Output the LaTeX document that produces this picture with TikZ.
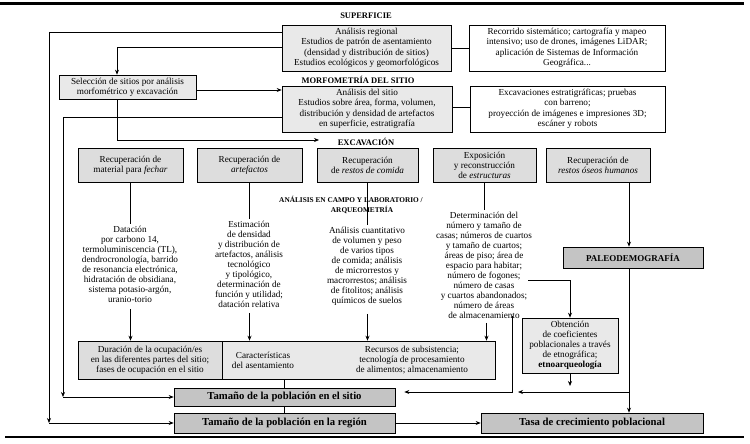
\documentclass[tikz,border=0pt]{standalone}
\usepackage{fontspec}
\setmainfont{Liberation Serif}
\usetikzlibrary{arrows.meta}
\definecolor{lightfill}{HTML}{E9E9E9}
\definecolor{midfill}{HTML}{DDDDDD}
\definecolor{darkfill}{HTML}{C4C4C4}
\begin{document}
\begin{tikzpicture}[x=1pt,y=-1pt,
  ln/.style={line width=0.7pt},
  arr/.style={line width=0.7pt,-{Stealth[length=5pt,width=4pt]}},
  txt/.style={font=\fontsize{9.2}{10}\selectfont, align=center, inner sep=0pt},
  tblock/.style={txt, inner sep=2pt},
  bx/.style={draw, line width=0.6pt, txt, fill=lightfill},
  bigbx/.style={bx, font=\fontsize{9.2}{10.5}\selectfont},
  rbox/.style={bx, fill=midfill, minimum height=34pt},
  dbox/.style={draw, line width=0.6pt, fill=darkfill, inner sep=0pt, font=\fontsize{10.7}{12}\selectfont\bfseries},
  head/.style={font=\fontsize{8.5}{10}\selectfont\bfseries, inner sep=0pt},
  smallhead/.style={font=\fontsize{7.3}{9}\selectfont\bfseries, inner sep=0pt}]
\useasboundingbox (0,0) rectangle (750,444);
% rules
\draw[line width=2.5pt] (0,3.5) -- (744,3.5);
\draw[line width=2.5pt] (5,437) -- (744,437);
% headings
\node[head] (hsup) at (366,16) {SUPERFICIE};
\node[head] (hmor) at (358,80) {MORFOMETRÍA DEL SITIO};
\node[head] (hexc) at (366,142) {EXCAVACIÓN};
% top boxes
\node[bigbx, minimum width=169pt, minimum height=46pt] (sup) at (366.5,48) {Análisis regional\\Estudios de patrón de asentamiento\\(densidad y distribución de sitios)\\Estudios ecológicos y geomorfológicos};
\node[bigbx, fill=white, minimum width=196pt, minimum height=46pt] (supR) at (567,48) {Recorrido sistemático; cartografía y mapeo\\intensivo; uso de drones, imágenes LiDAR;\\aplicación de Sistemas de Información\\Geográfica...};
\node[bx, minimum width=137pt, minimum height=24pt] (sel) at (127.5,87) {Selección de sitios por análisis\\morfométrico y excavación};
\node[bigbx, minimum width=170pt, minimum height=46pt] (mor) at (367,109) {Análisis del sitio\\Estudios sobre área, forma, volumen,\\distribución y densidad de artefactos\\en superficie, estratigrafía};
\node[bigbx, fill=white, minimum width=195pt, minimum height=46pt] (morR) at (567.5,109) {Excavaciones estratigráficas; pruebas\\con barreno;\\proyección de imágenes e impresiones 3D;\\escáner y robots};
% row of recovery boxes
\node[rbox, minimum width=105pt] (r1) at (130.5,165) {Recuperación de\\material para \textit{fechar}};
\node[rbox, minimum width=105pt] (r2) at (249.5,165) {Recuperación de\\\textit{artefactos}};
\node[rbox, minimum width=101pt] (r3) at (367.5,165) {Recuperación\\de \textit{restos de comida}};
\node[rbox, minimum width=103pt] (r4) at (484.5,165) {Exposición\\y reconstrucción\\de \textit{estructuras}};
\node[rbox, minimum width=104pt] (r5) at (598,165) {Recuperación de\\\textit{restos óseos humanos}};
% analysis texts
\node[tblock] (t1) at (130,264) {Datación\\por carbono 14,\\termoluminiscencia (TL),\\dendrocronología, barrido\\de resonancia electrónica,\\hidratación de obsidiana,\\sistema potasio-argón,\\uranio-torio};
\node[tblock] (t2) at (249,264.5) {Estimación\\de densidad\\y distribución de\\artefactos, análisis\\tecnológico\\y tipológico,\\determinación de\\función y utilidad;\\datación relativa};
\node[tblock] (t3) at (367,266.5) {Análisis cuantitativo\\de volumen y peso\\de varios tipos\\de comida; análisis\\de microrrestos y\\macrorrestos; análisis\\de fitolitos; análisis\\químicos de suelos};
\node[tblock] (t4) at (484,265.5) {Determinación del\\número y tamaño de\\casas; números de cuartos\\y tamaño de cuartos;\\áreas de piso; área de\\espacio para habitar;\\número de fogones;\\número de casas\\y cuartos abandonados;\\número de áreas\\de almacenamiento};
% paleodemografia
\node[dbox, font=\fontsize{9}{10}\selectfont\bfseries, minimum width=140pt, minimum height=21pt] (paleo) at (633,257.5) {PALEODEMOGRAFÍA};
% bottom row
\node[bx, minimum width=273pt, minimum height=38pt] (rest) at (358.5,360) {};
\node[bx, fill=midfill, minimum width=144pt, minimum height=38pt] (dur) at (150,360) {Duración de la ocupación/es\\en las diferentes partes del sitio;\\fases de ocupación en el sitio};
\node[txt] (car) at (263,360) {Características\\del asentamiento};
\node[txt] (rec) at (412,360) {Recursos de subsistencia;\\tecnología de procesamiento\\de alimentos; almacenamiento};
\node[bx, minimum width=96pt, minimum height=55pt] (obt) at (570,345.5) {Obtención\\de coeficientes\\poblacionales a través\\de etnográfica;\\\textbf{etnoarqueología}};
\node[dbox, minimum width=221pt, minimum height=18pt] (sitio) at (284.5,397) {Tamaño de la población en el sitio};
\node[dbox, minimum width=221pt, minimum height=20pt] (region) at (284.5,423) {Tamaño de la población en la región};
\node[dbox, minimum width=222pt, minimum height=20pt] (tasa) at (592,423) {Tasa de crecimiento poblacional};
% headings in the middle
\node[smallhead] (han1) at (351,199) {ANÁLISIS EN CAMPO Y LABORATORIO /};
\node[smallhead] (han2) at (362,210) {ARQUEOMETRÍA};
% coordinates
\coordinate (a1) at (49,32);
\coordinate (a2) at (49,423);
\coordinate (b1) at (117,47);
\coordinate (f1) at (63,117);
\coordinate (f2) at (63,397);
\coordinate (g1) at (117,140);
\coordinate (g2) at (319,140);
\coordinate (s1) at (528,280);
\coordinate (k1) at (512,316);
\coordinate (k2) at (512,392);
\coordinate (px) at (629,0);
\coordinate (q1) at (629,392);
\coordinate (q2) at (518,392);
\coordinate (o1) at (570,386);
% connectors
\draw[ln] (sup.west |- a1) -- (a1);
\draw[arr] (a1) -- (a2);
\draw[arr] (a2) -- (region.west);
\draw[arr] (sup.west |- b1) -| (b1 |- sel.north);
\draw[ln] (sup.east) -- (supR.west);
\draw[arr] ([yshift=-3pt]sel.east) -- ([yshift=-3pt]sel.east -| mor.west);
\draw[ln] ([yshift=2pt]mor.east) -- ([yshift=2pt]mor.east -| morR.west);
\draw[ln] (mor.west |- f1) -- (f1);
\draw[arr] (f1) -- (f2);
\draw[arr] (f2) -- (sitio.west);
\draw[arr] (sel.south -| g1) |- (g2);
% columns
\draw[ln] (r1.south) -- (r1.south |- t1.north);
\draw[arr, shorten <=5pt] (r1.south |- t1.south) -- (r1.south |- dur.north);
\draw[ln] (r2.south) -- (r2.south |- t2.north);
\draw[arr, shorten <=3pt] (r2.south |- t2.south) -- (r2.south |- rest.north);
\draw[ln] (r3.south) -- (r3.south |- t3.north);
\draw[arr, shorten <=6pt] (r3.south |- t3.south) -- (r3.south |- rest.north);
\draw[ln] (r4.south) -- (r4.south |- t4.north);
\draw[arr, shorten <=2pt] ([xshift=2.5pt]t4.south) -- ([xshift=2.5pt]t4.south |- rest.north);
\draw[arr] (s1) -| (obt.north);
\draw[arr, shorten >=9pt] (k1) -- (k2) -- (k2 -| sitio.east);
\draw[arr] (r5.south -| px) -- (paleo.north -| px);
\draw[arr] (paleo.south -| px) -- (tasa.north -| px);
\draw[arr] (q1) -- (q2);
\draw[arr] (obt.south) -- (obt.south |- o1);
\draw[arr] (region.east) -- (tasa.west);
\draw[ln] (sitio.north |- rest.south) -- (sitio.north);
\draw[ln] (sitio.south) -- (region.north);
\end{tikzpicture}
\end{document}
